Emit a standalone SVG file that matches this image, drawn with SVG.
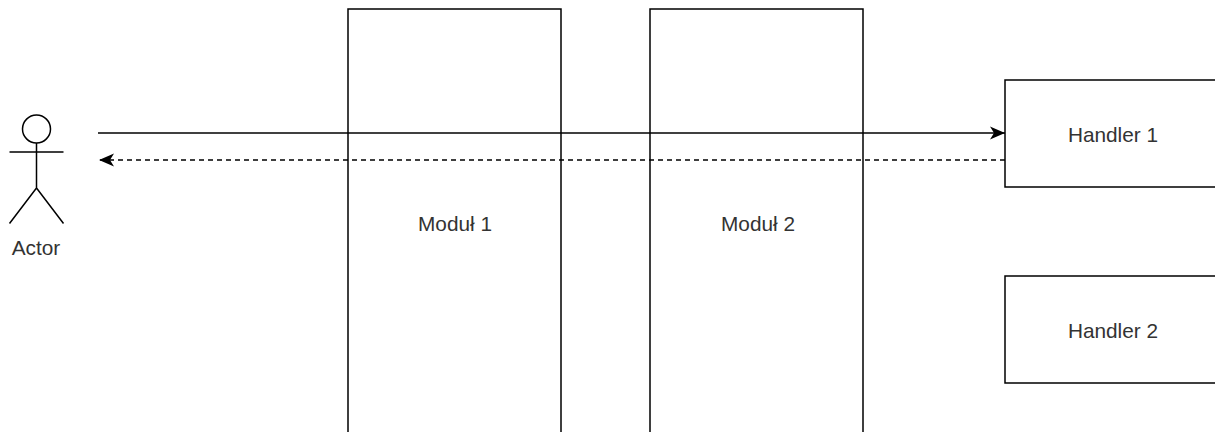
<svg xmlns="http://www.w3.org/2000/svg" width="1215" height="432" viewBox="0 0 1215 432">
<style>
.s{fill:#fff;stroke:#000;stroke-width:1.500}
.l{fill:none;stroke:#000;stroke-width:1.500}
text{font-family:"Liberation Sans",Arial,sans-serif;font-size:20.800px;fill:#333;text-anchor:middle}
</style>
<defs>
<marker id="a" markerUnits="userSpaceOnUse" markerWidth="16" markerHeight="16" refX="15" refY="8" orient="auto-start-reverse"><path d="M0 1.500L15 8L0 14.500L4 8Z" fill="#000"/></marker>
</defs>
<rect width="1215" height="432" fill="#fff"/>
<g id="modul1"><path class="s" d="M348 433V9H561V433"/><text x="455" y="231">Moduł 1</text></g>
<g id="modul2"><path class="s" d="M650 433V9H863V433"/><text x="758" y="231">Moduł 2</text></g>
<g id="handler1"><path class="s" d="M1216 80H1005V187H1216"/><text x="1113" y="142">Handler 1</text></g>
<g id="handler2"><path class="s" d="M1216 276H1005V383H1216"/><text x="1113" y="338">Handler 2</text></g>
<g id="actor"><circle class="l" cx="36.500" cy="129" r="14"/><path class="l" d="M36.500 143V188M9.500 152H63.500M36.500 188L9.500 223.500M36.500 188L63.500 223.500"/><text x="36" y="255">Actor</text></g>
<g id="connectors">
<path class="l" d="M98 133H1005" marker-end="url(#a)"/>
<path class="l" d="M1005 160H99" stroke-dasharray="5 4" marker-end="url(#a)"/>
</g>
</svg>
